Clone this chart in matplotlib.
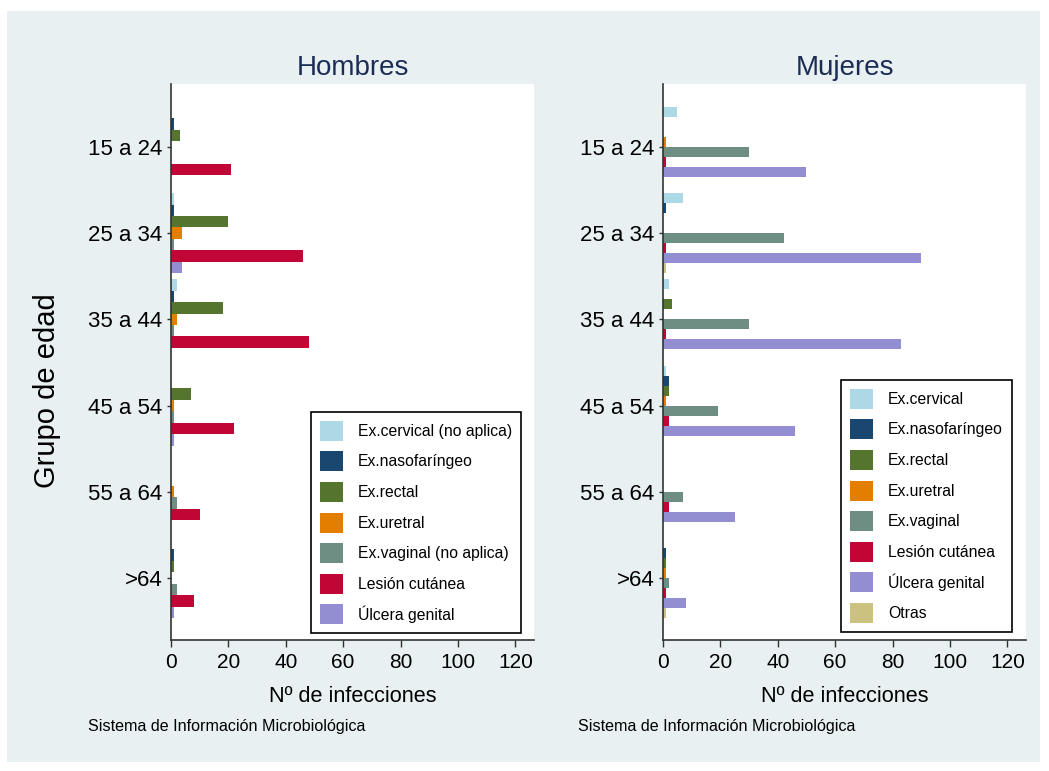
import matplotlib
matplotlib.use("Agg")
import matplotlib.pyplot as plt
from matplotlib.patches import Patch, Rectangle
import numpy as np

plt.rcParams['font.family'] = ['Liberation Sans', 'DejaVu Sans']

# ---------------- data ----------------
age_groups = ["15 a 24", "25 a 34", "35 a 44", "45 a 54", "55 a 64", ">64"]

men_categories = ["Ex.cervical (no aplica)", "Ex.nasofaríngeo", "Ex.rectal", "Ex.uretral",
                  "Ex.vaginal (no aplica)", "Lesión cutánea", "Úlcera genital"]
men_cervical = [0, 1, 2, 0, 0, 0]
men_naso     = [1, 1, 1, 0, 0, 1]
men_rectal   = [3, 20, 18, 7, 0, 1]
men_uretral  = [0, 4, 2, 1, 1, 0]
men_vaginal  = [0, 1, 1, 1, 2, 2]
men_lesion   = [21, 46, 48, 22, 10, 8]
men_ulcera   = [0, 4, 0, 1, 0, 1]

women_categories = ["Ex.cervical", "Ex.nasofaríngeo", "Ex.rectal", "Ex.uretral",
                    "Ex.vaginal", "Lesión cutánea", "Úlcera genital", "Otras"]
women_cervical = [5, 7, 2, 1, 0, 0]
women_naso     = [0, 1, 0, 2, 0, 1]
women_rectal   = [0, 0, 3, 2, 0, 1]
women_uretral  = [1, 0, 0, 1, 0, 1]
women_vaginal  = [30, 42, 30, 19, 7, 2]
women_lesion   = [1, 1, 1, 2, 2, 1]
women_ulcera   = [50, 90, 83, 46, 25, 8]
women_otras    = [0, 1, 0, 0, 0, 1]

colors = ["#ADD8E6", "#1A476F", "#55752F", "#E37E00", "#6E8E84", "#C10534", "#938DD2", "#CAC27E"]

men_series = [men_cervical, men_naso, men_rectal, men_uretral, men_vaginal, men_lesion, men_ulcera]
women_series = [women_cervical, women_naso, women_rectal, women_uretral, women_vaginal,
                women_lesion, women_ulcera, women_otras]

# ---------------- figure ----------------
W, H = 1049, 771
fig = plt.figure(figsize=(W / 100, H / 100), dpi=100)
fig.patch.set_facecolor("white")

def fx(px):
    return px / W

def fy(py):
    return 1 - py / H

# light background panel
fig.patches.append(Rectangle((fx(7), fy(762)), fx(1040) - fx(7), fy(11) - fy(762),
                             transform=fig.transFigure, facecolor="#E8F0F2",
                             edgecolor="none", zorder=-10))

TITLE_C = "#1C2D55"


def make_panel(left_px, right_px, title, series, cats, legend_box):
    ax = fig.add_axes([fx(left_px), fy(640), fx(right_px) - fx(left_px), fy(84) - fy(640)])
    ax.set_facecolor("white")
    n = len(series)
    h = 0.928 / n
    y = np.arange(len(age_groups))
    for j, (vals, col) in enumerate(zip(series, colors)):
        ax.barh(y + (j - (n - 1) / 2) * h, vals, height=h, color=col, linewidth=0)
    ax.set_ylim(5.72, -0.73)
    ax.set_xlim(0, 126.5)
    ax.set_xticks(np.arange(0, 121, 20))
    ax.set_yticks(y)
    ax.set_yticklabels(age_groups)
    ax.tick_params(axis="x", length=5, width=1, color="#333333", labelsize=15, pad=4)
    ax.tick_params(axis="y", length=3, width=1, color="#333333", labelsize=16, pad=3)
    for s in ["top", "right"]:
        ax.spines[s].set_visible(False)
    for s in ["left", "bottom"]:
        ax.spines[s].set_color("#333333")
        ax.spines[s].set_linewidth(1.2)
    ax.set_title(title, fontsize=20, color=TITLE_C, pad=6.5)
    ax.set_xlabel("Nº de infecciones", fontsize=15.6)
    ax.xaxis.set_label_coords(0.5, (640 - 697) / 556)
    ax.xaxis.label.set_va("center")
    handles = [Patch(facecolor=c, edgecolor="none") for c in colors[:n]]
    leg = ax.legend(handles, cats, loc="upper left",
                    bbox_to_anchor=(fx(legend_box[0]), fy(legend_box[1])),
                    bbox_transform=fig.transFigure, borderaxespad=0,
                    fontsize=11.3, frameon=True, fancybox=False, framealpha=1,
                    edgecolor="black", handlelength=1.46, handleheight=1.58,
                    handletextpad=1.0, labelspacing=0.68, borderpad=0.55)
    leg.get_frame().set_linewidth(1.2)
    return ax

ax1 = make_panel(171, 534, "Hombres", men_series, men_categories, (311, 412))
ax2 = make_panel(663, 1026, "Mujeres", women_series, women_categories, (841, 380))

fig.text(fx(47), fy(391), "Grupo de edad", rotation=90, fontsize=21,
         ha="center", va="center")
fig.text(fx(88), fy(727), "Sistema de Información Microbiológica", fontsize=11.6,
         ha="left", va="center")
fig.text(fx(578), fy(727), "Sistema de Información Microbiológica", fontsize=11.6,
         ha="left", va="center")

fig.savefig("out.png", dpi=100, facecolor="white")
